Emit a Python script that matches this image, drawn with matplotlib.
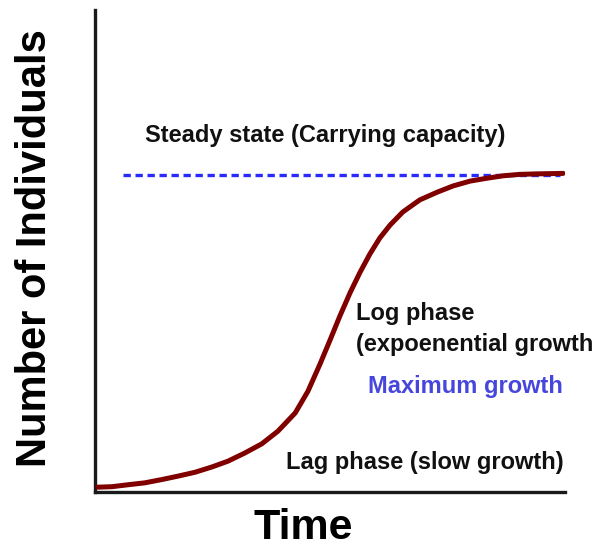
import matplotlib.pyplot as plt

# growth curve (time %, individuals %)
time = [0.6, 3.6, 7.0, 10.6, 14.3, 17.7, 21.3, 24.9, 28.3, 31.9, 35.5,
        38.9, 42.6, 45.3, 47.9, 50.0, 52.1, 54.3, 56.4, 58.5, 60.6, 62.8,
        65.5, 69.1, 72.8, 76.2, 79.8, 83.4, 86.8, 90.4, 94.0, 99.6]
individuals = [1.0, 1.1, 1.5, 1.9, 2.6, 3.3, 4.1, 5.2, 6.4, 8.1, 10.0,
               12.6, 16.4, 20.9, 26.6, 31.5, 36.5, 41.4, 45.6, 49.4, 52.7,
               55.4, 58.1, 60.6, 62.2, 63.5, 64.5, 65.1, 65.6, 65.9, 66.0,
               66.1]

capacity = 65.8
capacity_span = [6.0, 99.0]

labels = {
    'steady': 'Steady state (Carrying capacity)',
    'log': 'Log phase',
    'exp': '(expoenential growth',
    'max': 'Maximum growth',
    'lag': 'Lag phase (slow growth)',
}

fig = plt.figure(figsize=(6.04, 5.48), dpi=100)
ax = fig.add_axes([95 / 604, 56 / 548, 470 / 604, 482 / 548])

ax.plot(capacity_span, [capacity, capacity], color='#2a2aff', lw=2.4,
        ls=(0, (2.2, 1.4)), zorder=2)
ax.plot(time, individuals, color='#800000', lw=3.6, zorder=3,
        solid_capstyle='round', solid_joinstyle='round')

ax.set_xlim(0, 100)
ax.set_ylim(0, 100)
for side in ['top', 'right']:
    ax.spines[side].set_visible(False)
for side in ['left', 'bottom']:
    ax.spines[side].set_color('#1a1a1a')
    ax.spines[side].set_linewidth(2.4)
ax.set_xticks([])
ax.set_yticks([])

font = dict(family='Liberation Sans', fontsize=17, fontweight='bold',
            color='#111111', va='center', ha='left', clip_on=False)
ax.text(10.6, 73.9, labels['steady'], **font)
ax.text(55.5, 37.1, labels['log'], **font)
ax.text(55.5, 30.5, labels['exp'], **font)
ax.text(40.6, 6.2, labels['lag'], **font)
font['color'] = '#4646dc'
ax.text(58.1, 21.8, labels['max'], **font)

fig.text(0.058, 0.547, 'Number of Individuals', rotation=90,
         family='Liberation Sans', fontweight='bold', fontsize=30,
         ha='center', va='center')
fig.text(0.502, 0.0365, 'Time', family='Liberation Sans',
         fontweight='bold', fontsize=31, ha='center', va='center')

fig.savefig('out.png', dpi=100)
